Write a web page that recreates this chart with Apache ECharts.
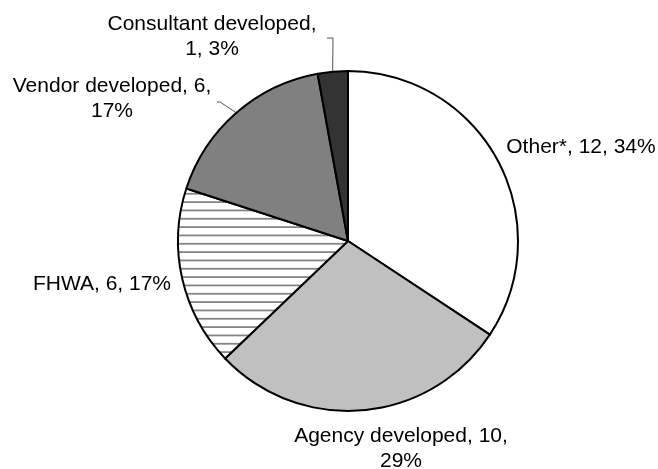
<!DOCTYPE html>
<html>
<head>
<meta charset="utf-8">
<script src="https://cdn.jsdelivr.net/npm/echarts@6/dist/echarts.min.js"></script>
<style>
  html, body { margin: 0; padding: 0; background: #fff; }
  #chart { width: 658px; height: 469px; }
</style>
</head>
<body>
<div id="chart"></div>
<script>
// Source categories, counts and shares
const categories = ['Other*', 'Agency developed', 'FHWA', 'Vendor developed', 'Consultant developed'];
const counts = [12, 10, 6, 6, 1];
const percents = [34, 29, 17, 17, 3];
// Where each label wraps: 0 = single line, 1 = after the count, 2 = after the name
const labelWraps = [0, 1, 0, 1, 2];

// ---- layout & style ----
const CX = 348, CY = 241, R = 170;
// label block centres, relative to the pie centre
const labelCentres = [[233, -94], [53, 208], [-246, 43], [-236, -142], [-136, -204]];
// leader line bends (knee, end) relative to the pie centre; null = no leader line
const leaderBends = [null, null, null, [[-128, -139], [-131, -139]], [[-15, -203], [-21, -203]]];

// horizontal hatch for the FHWA slice
function hatchPattern() {
  const c = document.createElement('canvas');
  c.width = 25; c.height = 25;
  const g = c.getContext('2d');
  g.fillStyle = '#ffffff';
  g.fillRect(0, 0, 25, 25);
  g.fillStyle = '#858585';
  for (let k = 0; k < 3; k++) {
    g.fillRect(0, 1.2 + k * 25 / 3, 25, 1.8);
  }
  return { image: c, repeat: 'repeat' };
}

const fills = ['#ffffff', '#c0c0c0', hatchPattern(), '#808080', '#333333'];

function labelText(i) {
  const n = categories[i], v = counts[i], p = percents[i] + '%';
  if (labelWraps[i] === 1) return n + ', ' + v + ',\n' + p;
  if (labelWraps[i] === 2) return n + ',\n' + v + ', ' + p;
  return n + ', ' + v + ', ' + p;
}

// mid angle of each slice (clockwise from 12 o'clock), from the data
const total = counts.reduce((a, b) => a + b, 0);
const midAngles = [];
{
  let acc = 0;
  counts.forEach(v => { midAngles.push((acc + v / 2) / total * 2 * Math.PI); acc += v; });
}

const data = categories.map((name, i) => ({
  name: name,
  value: counts[i],
  itemStyle: { color: fills[i] },
  label: { formatter: labelText(i) },
  labelLine: { show: leaderBends[i] !== null }
}));

const chart = echarts.init(document.getElementById('chart'), null, { renderer: 'canvas' });
chart.setOption({
  animation: false,
  backgroundColor: '#ffffff',
  series: [{
    type: 'pie',
    center: [CX, CY],
    radius: R,
    startAngle: 90,
    clockwise: true,
    avoidLabelOverlap: false,
    silent: true,
    emphasis: { disabled: true },
    itemStyle: { borderColor: '#000000', borderWidth: 2 },
    label: {
      show: true,
      position: 'outside',
      color: '#000000',
      fontFamily: '"Liberation Sans", Arial, sans-serif',
      fontSize: 21,
      lineHeight: 25
    },
    labelLine: {
      length: 10,
      length2: 5,
      lineStyle: { color: '#555555', width: 1 }
    },
    labelLayout: function (params) {
      const i = params.dataIndex;
      const c = labelCentres[i];
      const out = { x: CX + c[0], y: CY + c[1], align: 'center', verticalAlign: 'middle' };
      const bend = leaderBends[i];
      if (bend) {
        const a = midAngles[i];
        const r = R + 1;
        out.labelLinePoints = [
          [CX + r * Math.sin(a), CY - r * Math.cos(a)],
          [CX + bend[0][0], CY + bend[0][1]],
          [CX + bend[1][0], CY + bend[1][1]]
        ];
      }
      return out;
    },
    data: data
  }]
});
</script>
</body>
</html>
